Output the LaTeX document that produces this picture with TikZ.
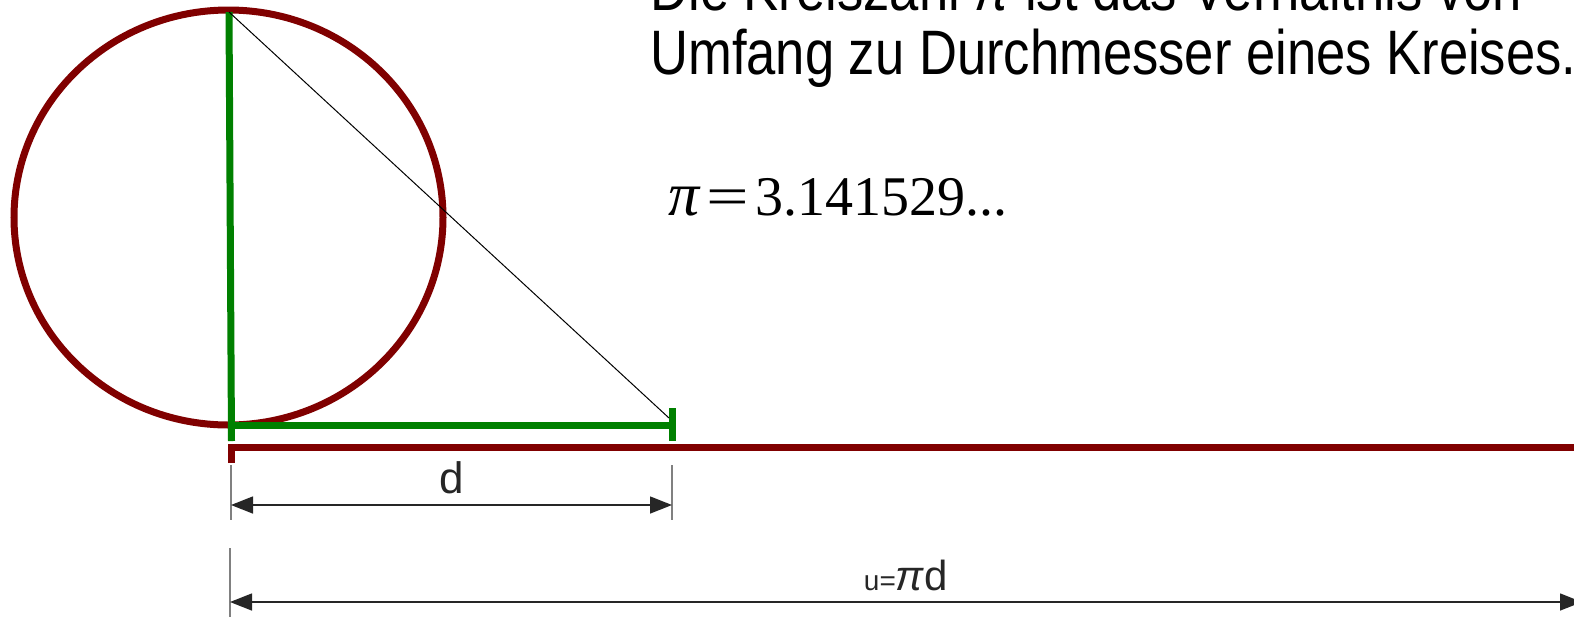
\documentclass[tikz,border=0pt]{standalone}
\usepackage{graphicx}
\usepackage{fontspec}
\setmainfont{Liberation Sans}
\newfontfamily\schmal[FakeStretch=0.837]{Liberation Sans}
\newfontfamily\serif{Liberation Serif}
\usetikzlibrary{arrows.meta}
\definecolor{kreisrot}{HTML}{800000}
\definecolor{gruen}{HTML}{008000}

\begin{document}
\begin{tikzpicture}[x=0.5pt, y=-0.5pt, >={Triangle[length=11pt,width=8.5pt]},
  kreis/.style={kreisrot, line width=3.5pt},
  strecke/.style={gruen, line width=3.5pt},
  masslinie/.style={black!85, line width=0.75pt, <->},
  hilfslinie/.style={gray, line width=0.75pt}]
  \useasboundingbox (0,0) rectangle (1574,617);
  \clip (0,0) rectangle (1574,617);

  % Punkte
  \coordinate (O) at (229,12);
  \coordinate (U) at (231.5,441);
  \coordinate (D) at (672,425);

  % Kreis und abgerollter Umfang
  \draw[kreis] (228.5,217.5) ellipse [x radius=214.5, y radius=207.5];
  \draw[kreis] (231.5,463) -- (231.5,447) -- (1590,447);

  % Durchmesser (gruen)
  \draw[strecke] (O) -- (U);
  \draw[strecke] (231.5,425) -- (D);
  \draw[strecke] (672,408) -- (672,441);
  \draw[black, line width=0.5pt] (O) -- (669,418);

  % Masslinien
  \draw[hilfslinie] (231,465) -- (231,520);
  \draw[hilfslinie] (672,465) -- (672,520);
  \draw[masslinie] (231,505) -- node[above=2pt, font=\fontsize{22}{22}\selectfont] (d) {d} (672,505);
  \draw[hilfslinie] (230,548) -- (230,617);
  \draw[masslinie] (230,602) -- node[above=2pt] (u) {{\fontsize{14}{14}\selectfont u=}{\fontsize{21}{21}\selectfont\textit{π}d}} (1582,602);

  % Text
  \node[anchor=base west, inner sep=0pt, font=\schmal\fontsize{31.4}{31.4}\selectfont] (z1) at (650,10) {Die Kreiszahl \textit{π} ist das Verhältnis von};
  \node[anchor=base west, inner sep=0pt, font=\schmal\fontsize{31.4}{31.4}\selectfont] (z2) at (650,74) {Umfang zu Durchmesser eines Kreises.};
  \node[anchor=base west, inner sep=0pt, font=\serif\fontsize{28}{28}\selectfont] (pi) at (668,215) {{\fontsize{31}{31}\selectfont\textit{π}}\hspace{3pt}\scalebox{1.35}[1]{=}\hspace{3pt}3.141529...};
\end{tikzpicture}
\end{document}
